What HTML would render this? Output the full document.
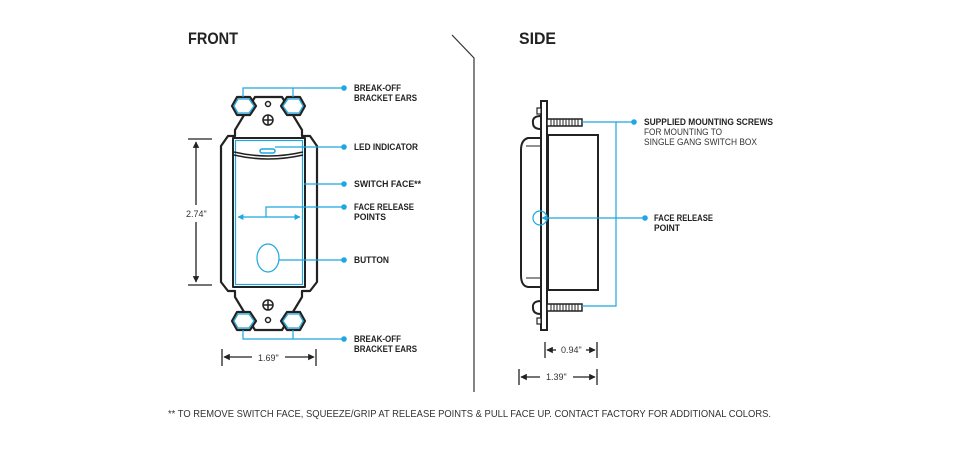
<!DOCTYPE html>
<html><head><meta charset="utf-8"><style>html,body{margin:0;padding:0;background:#fff}svg{display:block}</style></head>
<body>
<svg width="960" height="450" viewBox="0 0 960 450" xmlns="http://www.w3.org/2000/svg" font-family="Liberation Sans, sans-serif">
<defs>
<marker id="ab" viewBox="0 0 10 10" refX="9" refY="5" markerWidth="5" markerHeight="5" orient="auto-start-reverse"><path d="M0,0L10,5L0,10z" fill="#1ea7e1"/></marker>
<marker id="ak" viewBox="0 0 10 10" refX="9" refY="5" markerWidth="5" markerHeight="5" orient="auto-start-reverse"><path d="M0,0L10,5L0,10z" fill="#222"/></marker>
</defs>
<text x="188" y="44" font-size="17" font-weight="bold" fill="#222" textLength="50" lengthAdjust="spacingAndGlyphs">FRONT</text>
<text x="519" y="44" font-size="17" font-weight="bold" fill="#222" textLength="37" lengthAdjust="spacingAndGlyphs">SIDE</text>
<polyline points="452,35 474,58 474,392" fill="none" stroke="#333" stroke-width="1.2"/>

<g stroke="#222" stroke-width="2.2" fill="#fff" stroke-linejoin="round">
 <path d="M255,97 L282,97 L302,130 L302,136 L310,136 L317,146 L317,282 L310,291 L302,291 L302,297 L282,330 L255,330 L235,297 L235,291 L228,291 L221,282 L221,146 L228,136 L235,136 L235,130 Z"/>
 <path d="M237,97 L250,97 L256,106 L250,115 L237,115 L232,106 Z"/>
 <path d="M287,97 L300,97 L305,106 L300,115 L287,115 L281,106 Z"/>
 <path d="M237,312 L250,312 L256,321 L250,330 L237,330 L232,321 Z"/>
 <path d="M287,312 L300,312 L305,321 L300,330 L287,330 L281,321 Z"/>
 <rect x="233" y="138" width="72" height="149" stroke-width="2"/>
</g>
<g stroke="#1ea7e1" stroke-width="1.2" fill="none">
 <path d="M238,99 L249,99 L254,106 L249,113 L238,113 L234,106 Z"/>
 <path d="M288,99 L299,99 L303,106 L299,113 L288,113 L283,106 Z"/>
 <path d="M238,314 L249,314 L254,321 L249,328 L238,328 L234,321 Z"/>
 <path d="M288,314 L299,314 L303,321 L299,328 L288,328 L283,321 Z"/>
 <rect x="235.5" y="140.5" width="67" height="144"/>
 <ellipse cx="268" cy="258" rx="11" ry="14"/>
 <polyline points="243,97 243,88 344,88"/>
 <line x1="293" y1="97" x2="293" y2="88"/>
 <line x1="275" y1="147" x2="344" y2="147"/>
 <line x1="304" y1="184" x2="344" y2="184"/>
 <polyline points="266,217 266,207 344,207"/>
 <line x1="238" y1="217" x2="300" y2="217" marker-start="url(#ab)" marker-end="url(#ab)"/>
 <line x1="279" y1="260" x2="344" y2="260"/>
 <polyline points="243,330 243,339 344,339"/>
 <line x1="293" y1="330" x2="293" y2="339"/>
</g>
<g fill="none" stroke="#222" stroke-width="1.5">
 <path d="M234,152 Q268,160 303,152"/><path d="M234,155 Q268,163 303,155"/>
 <rect x="260" y="149" width="15" height="4" rx="2" fill="#fff" stroke="#1ea7e1"/>
 <circle cx="268" cy="120" r="5"/><path d="M263,120h10M268,115v10"/>
 <circle cx="268" cy="104" r="2.5"/>
 <circle cx="268" cy="305" r="5"/><path d="M263,305h10M268,300v10"/>
 <circle cx="268" cy="320" r="2.5"/>
</g>
<g stroke="#222" stroke-width="1.3" fill="none">
 <line x1="188" y1="139" x2="212" y2="139"/><line x1="188" y1="285" x2="212" y2="285"/>
 <line x1="196" y1="142" x2="196" y2="205" marker-start="url(#ak)"/>
 <line x1="196" y1="222" x2="196" y2="282" marker-end="url(#ak)"/>
 <line x1="222" y1="349" x2="222" y2="366"/><line x1="316" y1="349" x2="316" y2="366"/>
 <line x1="224" y1="357" x2="252" y2="357" marker-start="url(#ak)"/>
 <line x1="285" y1="357" x2="314" y2="357" marker-end="url(#ak)"/>
</g>
<text x="186" y="217" font-size="9" fill="#333">2.74"</text>
<text x="258" y="361" font-size="9" fill="#333">1.69"</text>

<g fill="#1ea7e1"><circle cx="344" cy="88" r="2.8"/><circle cx="344" cy="147" r="2.8"/><circle cx="344" cy="184" r="2.8"/><circle cx="344" cy="207" r="2.8"/><circle cx="344" cy="260" r="2.8"/><circle cx="344" cy="339" r="2.8"/>
<circle cx="634" cy="122" r="2.8"/><circle cx="645" cy="218" r="2.8"/></g>
<g font-size="9" font-weight="bold" fill="#222">
 <text x="354" y="91" textLength="47" lengthAdjust="spacingAndGlyphs">BREAK-OFF</text>
 <text x="354" y="101" textLength="63" lengthAdjust="spacingAndGlyphs">BRACKET EARS</text>
 <text x="354" y="150" textLength="64" lengthAdjust="spacingAndGlyphs">LED INDICATOR</text>
 <text x="354" y="187" textLength="67" lengthAdjust="spacingAndGlyphs">SWITCH FACE**</text>
 <text x="354" y="210" textLength="60" lengthAdjust="spacingAndGlyphs">FACE RELEASE</text>
 <text x="354" y="220" textLength="32" lengthAdjust="spacingAndGlyphs">POINTS</text>
 <text x="354" y="263" textLength="35" lengthAdjust="spacingAndGlyphs">BUTTON</text>
 <text x="354" y="342" textLength="47" lengthAdjust="spacingAndGlyphs">BREAK-OFF</text>
 <text x="354" y="352" textLength="63" lengthAdjust="spacingAndGlyphs">BRACKET EARS</text>
 <text x="644" y="125" textLength="129" lengthAdjust="spacingAndGlyphs">SUPPLIED MOUNTING SCREWS</text>
 <text x="654" y="221" textLength="59" lengthAdjust="spacingAndGlyphs">FACE RELEASE</text>
 <text x="654" y="231" textLength="26" lengthAdjust="spacingAndGlyphs">POINT</text>
</g>
<g font-size="9" fill="#333">
 <text x="644" y="135" textLength="78" lengthAdjust="spacingAndGlyphs">FOR MOUNTING TO</text>
 <text x="644" y="145" textLength="113" lengthAdjust="spacingAndGlyphs">SINGLE GANG SWITCH BOX</text>
</g>

<g stroke="#222" stroke-width="2" fill="#fff">
 <rect x="548" y="135" width="50" height="155"/>
 <path d="M541,138 L528,138 Q521,140 521,150 L521,275 Q521,286 528,287 L541,287 Z"/>
 <path d="M526,146 L541,146 M526,278 L541,278" stroke-width="1"/>
 <rect x="541" y="101" width="6" height="229"/>
 <rect x="537" y="108" width="4" height="6" stroke-width="1.2"/><rect x="537" y="318" width="4" height="6" stroke-width="1.2"/>
 <path d="M541,116 Q532,116 533,123 Q533,129 541,129 Z"/>
 <path d="M541,301 Q532,301 533,308 Q533,314 541,314 Z"/>
 <rect x="547" y="119" width="35" height="7" stroke-width="1.5"/>
 <rect x="547" y="304" width="35" height="7" stroke-width="1.5"/>
</g>
<g stroke="#222" stroke-width="1">
 <path d="M551,119v7M554,119v7M557,119v7M560,119v7M563,119v7M566,119v7M569,119v7M572,119v7M575,119v7M578,119v7"/>
 <path d="M551,304v7M554,304v7M557,304v7M560,304v7M563,304v7M566,304v7M569,304v7M572,304v7M575,304v7M578,304v7"/>
</g>
<g stroke="#1ea7e1" stroke-width="1.2" fill="none">
 <polyline points="582,122 616,122 616,306 582,306"/>
 <line x1="616" y1="122" x2="634" y2="122"/>
 <circle cx="540" cy="218" r="7"/>
 <line x1="645" y1="218" x2="542" y2="218" marker-end="url(#ab)"/>
</g>
<g stroke="#222" stroke-width="1.3" fill="none">
 <line x1="545" y1="342" x2="545" y2="358"/><line x1="597" y1="342" x2="597" y2="358"/>
 <line x1="547" y1="350" x2="556" y2="350" marker-start="url(#ak)"/>
 <line x1="586" y1="350" x2="595" y2="350" marker-end="url(#ak)"/>
 <line x1="519" y1="369" x2="519" y2="385"/><line x1="597" y1="369" x2="597" y2="385"/>
 <line x1="521" y1="377" x2="540" y2="377" marker-start="url(#ak)"/>
 <line x1="573" y1="377" x2="595" y2="377" marker-end="url(#ak)"/>
</g>
<text x="561" y="353" font-size="9" fill="#333">0.94"</text>
<text x="546" y="380" font-size="9" fill="#333">1.39"</text>

<text x="168" y="417" font-size="10.5" fill="#333" textLength="603" lengthAdjust="spacingAndGlyphs">** TO REMOVE SWITCH FACE, SQUEEZE/GRIP AT RELEASE POINTS &amp; PULL FACE UP. CONTACT FACTORY FOR ADDITIONAL COLORS.</text>
</svg>
</body></html>
